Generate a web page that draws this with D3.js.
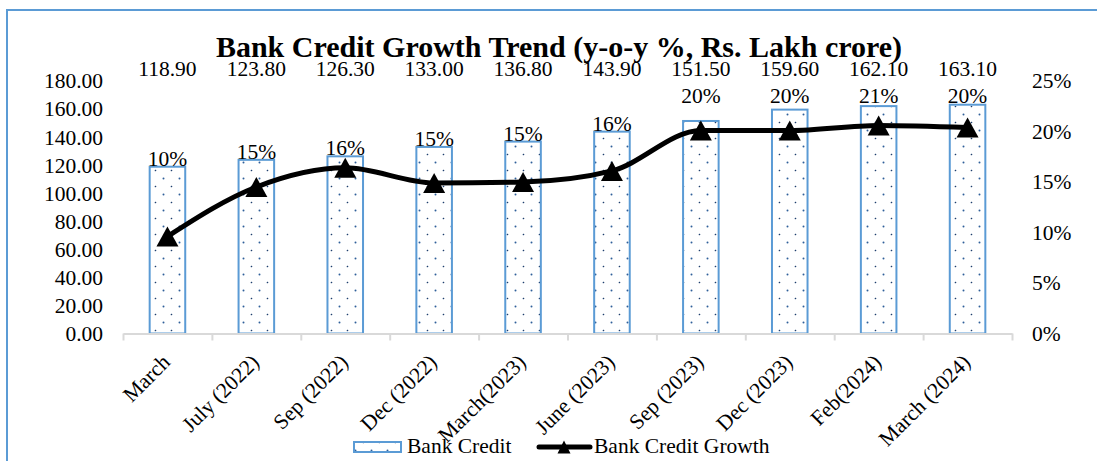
<!DOCTYPE html>
<html>
<head>
<meta charset="utf-8">
<script src="https://cdn.jsdelivr.net/npm/d3@7"></script>
<style>
  body { margin: 0; background: #fff; }
  text { font-family: "Times New Roman", "Liberation Serif", serif; fill: #000; }
</style>
</head>
<body>
<svg id="chart" width="1097" height="461"></svg>
<script>
const categories = ['March', 'July (2022)', 'Sep (2022)', 'Dec (2022)', 'March(2023)',
  'June (2023)', 'Sep (2023)', 'Dec (2023)', 'Feb(2024)', 'March (2024)']
const bankCredit = [118.9, 123.8, 126.3, 133.0, 136.8, 143.9, 151.5, 159.6, 162.1, 163.1]
const creditGrowth = [9.6, 14.5, 16.4, 14.9, 15.0, 16.1, 20.1, 20.1, 20.6, 20.4]
const leftTicks = [0, 20, 40, 60, 80, 100, 120, 140, 160, 180]
const rightTicks = [0, 5, 10, 15, 20, 25]

const blue = '#5b9bd5'
const fontSize = '21.5px'

const svg = d3.select('#chart')

// outer chart border (only top/left visible in the frame)
svg.append('rect')
  .attr('x', 7).attr('y', 10)
  .attr('width', 1110).attr('height', 480)
  .attr('fill', 'none')
  .attr('stroke', blue)
  .attr('stroke-width', 2)

// dotted fill for bars
const pat = svg.append('defs').append('pattern')
  .attr('id', 'dots')
  .attr('patternUnits', 'userSpaceOnUse')
  .attr('width', 16).attr('height', 16)
  .attr('x', 155).attr('y', 170)
pat.append('rect').attr('width', 16).attr('height', 16).attr('fill', '#fff')
pat.append('circle').attr('cx', 0.5).attr('cy', 0.5).attr('r', 0.8).attr('fill', '#1f3f6e')
pat.append('circle').attr('cx', 8.5).attr('cy', 8.5).attr('r', 1).attr('fill', '#2f5f9a')
pat.append('circle').attr('cx', 16.5).attr('cy', 0.5).attr('r', 0.8).attr('fill', '#1f3f6e')
pat.append('circle').attr('cx', 0.5).attr('cy', 16.5).attr('r', 0.8).attr('fill', '#1f3f6e')

const plotLeft = 123, plotRight = 1012, plotTop = 81, plotBottom = 333.5

const x = d3.scaleBand().domain(categories).range([plotLeft, plotRight]).padding(0)
const yL = d3.scaleLinear().domain([0, 180]).range([plotBottom, plotTop])
const yR = d3.scaleLinear().domain([0, 25]).range([plotBottom, plotTop])
const xTick = d3.scaleLinear().domain([0, categories.length]).range([plotLeft, plotRight])
const cx = (c) => x(c) + x.step() / 2

// title
svg.append('text')
  .attr('x', 559).attr('y', 57)
  .attr('text-anchor', 'middle')
  .style('font-size', '30px')
  .style('font-weight', 'bold')
  .text('Bank Credit Growth Trend (y-o-y %, Rs. Lakh crore)')

// left axis
const gl = svg.append('g')
  .attr('transform', `translate(${plotLeft},0)`)
  .call(d3.axisLeft(yL).tickValues(leftTicks).tickFormat(d3.format('.2f')).tickSize(0).tickPadding(20))
gl.select('.domain').remove()
gl.selectAll('text').style('font-size', fontSize).style('font-family', '"Times New Roman", "Liberation Serif", serif')

// right axis
const gr = svg.append('g')
  .attr('transform', `translate(${plotRight},0)`)
  .call(d3.axisRight(yR).tickValues(rightTicks).tickFormat((d) => d + '%').tickSize(0).tickPadding(20))
gr.select('.domain').remove()
gr.selectAll('text').style('font-size', fontSize).style('font-family', '"Times New Roman", "Liberation Serif", serif')

// bars
svg.append('g').selectAll('rect')
  .data(categories)
  .join('rect')
  .attr('x', (c) => x(c) + x.step() * 0.3)
  .attr('y', (c, i) => yL(bankCredit[i]))
  .attr('width', x.step() * 0.4)
  .attr('height', (c, i) => yL(0) - yL(bankCredit[i]))
  .attr('fill', 'url(#dots)')
  .attr('stroke', blue)
  .attr('stroke-width', 2)

// x axis
const gx = svg.append('g')
  .attr('transform', `translate(0,${plotBottom})`)
  .call(d3.axisBottom(xTick).tickValues(d3.range(categories.length + 1)).tickFormat('').tickSize(7).tickSizeOuter(0))
gx.select('.domain').attr('stroke', '#d9d9d9').attr('stroke-width', 2)
gx.selectAll('.tick line').attr('stroke', '#d9d9d9').attr('stroke-width', 2)

svg.append('g').selectAll('text')
  .data(categories)
  .join('text')
  .attr('transform', (c) => `translate(${cx(c) + 4},${plotBottom + 30}) rotate(-45)`)
  .attr('text-anchor', 'end')
  .style('font-size', fontSize)
  .text((c) => c)

// bank credit values along the top
svg.append('g').selectAll('text')
  .data(categories)
  .join('text')
  .attr('x', cx)
  .attr('y', 76)
  .attr('text-anchor', 'middle')
  .style('font-size', fontSize)
  .text((c, i) => d3.format('.2f')(bankCredit[i]))

// growth line
const line = d3.line()
  .x((d, i) => cx(categories[i]))
  .y((d) => yR(d))
  .curve(d3.curveMonotoneX)

svg.append('path')
  .datum(creditGrowth)
  .attr('fill', 'none')
  .attr('stroke', '#000')
  .attr('stroke-width', 5)
  .attr('stroke-linejoin', 'round')
  .attr('d', line)

const tri = (w, h) => `M0,${-h / 2}L${w / 2},${h / 2}L${-w / 2},${h / 2}Z`

svg.append('g').selectAll('path')
  .data(creditGrowth)
  .join('path')
  .attr('transform', (d, i) => `translate(${cx(categories[i])},${yR(d)})`)
  .attr('d', tri(22, 20))
  .attr('fill', '#000')

// growth labels: just above the bar, or on the upper row for the 20%+ points
svg.append('g').selectAll('text')
  .data(creditGrowth)
  .join('text')
  .attr('x', (d, i) => cx(categories[i]))
  .attr('y', (d, i) => Math.round(d) >= 20 ? yR(22.8) : yL(bankCredit[i]) - 1)
  .attr('text-anchor', 'middle')
  .style('font-size', fontSize)
  .text((d) => Math.round(d) + '%')

// legend
const lg = svg.append('g')
lg.append('rect')
  .attr('x', 354).attr('y', 442)
  .attr('width', 47).attr('height', 10)
  .attr('fill', 'url(#dots)')
  .attr('stroke', blue)
  .attr('stroke-width', 2)
lg.append('text').attr('x', 407).attr('y', 453).style('font-size', fontSize).text('Bank Credit')
lg.append('line')
  .attr('x1', 539).attr('x2', 590)
  .attr('y1', 447).attr('y2', 447)
  .attr('stroke', '#000').attr('stroke-width', 5).attr('stroke-linecap', 'round')
lg.append('path').attr('transform', 'translate(564,447)').attr('d', tri(13, 13)).attr('fill', '#000')
lg.append('text').attr('x', 594).attr('y', 453).style('font-size', fontSize).text('Bank Credit Growth')
</script>
</body>
</html>
